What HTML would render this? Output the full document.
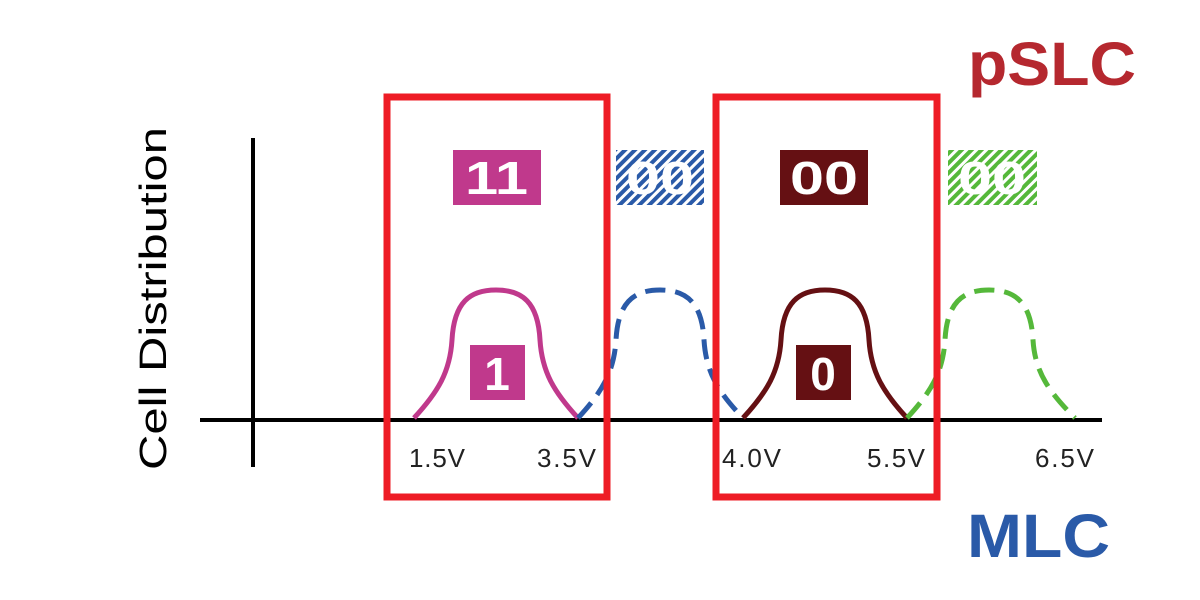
<!DOCTYPE html>
<html><head><meta charset="utf-8"><style>
html,body{margin:0;padding:0;background:#fff;width:1200px;height:600px;overflow:hidden}
text{font-family:"Liberation Sans",sans-serif}
</style></head><body>
<svg width="1200" height="600" viewBox="0 0 1200 600" xmlns="http://www.w3.org/2000/svg">
<defs>
<pattern id="hb" width="7" height="7" patternUnits="userSpaceOnUse" patternTransform="rotate(45)">
<rect width="7" height="7" fill="#fff"/><rect width="4" height="7" fill="#2a5aa8"/></pattern>
<pattern id="hg" width="7" height="7" patternUnits="userSpaceOnUse" patternTransform="rotate(45)">
<rect width="7" height="7" fill="#fff"/><rect width="4" height="7" fill="#55b83a"/></pattern>
</defs>
<rect width="1200" height="600" fill="#fff"/>
<line x1="200" y1="420" x2="1102" y2="420" stroke="#000" stroke-width="4"/>
<line x1="253" y1="138" x2="253" y2="467" stroke="#000" stroke-width="4"/>
<text transform="translate(166,470) rotate(-90)" font-size="38" fill="#000" textLength="343" lengthAdjust="spacingAndGlyphs">Cell Distribution</text>
<path d="M414,418 C438,392 450,372 452,340 C454,302 470,290 496,290 C522,290 538,302 540,340 C542,372 554,392 578,418" fill="none" stroke="#c0398c" stroke-width="5"/>
<path d="M578,418 C602,392 614,372 616,340 C618,302 634,290 660,290 C686,290 702,302 704,340 C706,372 718,392 743,418" fill="none" stroke="#2a5aa8" stroke-width="5" stroke-dasharray="20,10"/>
<path d="M743,418 C767,392 779,372 781,340 C783,302 799,290 825,290 C851,290 867,302 869,340 C871,372 883,392 907,418" fill="none" stroke="#651013" stroke-width="5"/>
<path d="M907,418 C931,392 943,372 945,340 C947,302 963,290 989,290 C1015,290 1031,302 1033,340 C1035,372 1049,392 1075,418" fill="none" stroke="#55b83a" stroke-width="5" stroke-dasharray="20,10"/>
<rect x="453" y="150" width="88" height="55" fill="#c0398c"/>
<text x="465" y="194" font-size="46" font-weight="bold" fill="#fff" textLength="63" lengthAdjust="spacingAndGlyphs">11</text>
<rect x="616" y="150" width="88" height="55" fill="url(#hb)"/>
<text x="626" y="194" font-size="46" font-weight="bold" fill="#fff" textLength="68" lengthAdjust="spacingAndGlyphs">00</text>
<rect x="780" y="150" width="88" height="55" fill="#651013"/>
<text x="790" y="194" font-size="46" font-weight="bold" fill="#fff" textLength="68" lengthAdjust="spacingAndGlyphs">00</text>
<rect x="948" y="150" width="89" height="55" fill="url(#hg)"/>
<text x="958" y="194" font-size="46" font-weight="bold" fill="#fff" textLength="68" lengthAdjust="spacingAndGlyphs">00</text>
<rect x="470" y="345" width="55" height="55" fill="#c0398c"/>
<text x="497" y="390" font-size="46" font-weight="bold" fill="#fff" text-anchor="middle">1</text>
<rect x="796" y="345" width="55" height="55" fill="#651013"/>
<text x="823" y="390" font-size="46" font-weight="bold" fill="#fff" text-anchor="middle">0</text>
<rect x="387" y="97" width="220" height="400" fill="none" stroke="#ee1c25" stroke-width="7"/>
<rect x="716" y="97" width="221" height="400" fill="none" stroke="#ee1c25" stroke-width="7"/>
<g font-size="26" fill="#222" lengthAdjust="spacingAndGlyphs">
<text x="409" y="467" textLength="56">1.5V</text>
<text x="537" y="467" textLength="59">3.5V</text>
<text x="722" y="467" textLength="59">4.0V</text>
<text x="867" y="467" textLength="58">5.5V</text>
<text x="1035" y="467" textLength="59">6.5V</text>
</g>
<text x="968" y="85" font-size="61" font-weight="bold" fill="#b5282f" textLength="168" lengthAdjust="spacingAndGlyphs">pSLC</text>
<text x="967" y="557" font-size="61" font-weight="bold" fill="#2a5aa8" textLength="143" lengthAdjust="spacingAndGlyphs">MLC</text>
</svg>
</body></html>
